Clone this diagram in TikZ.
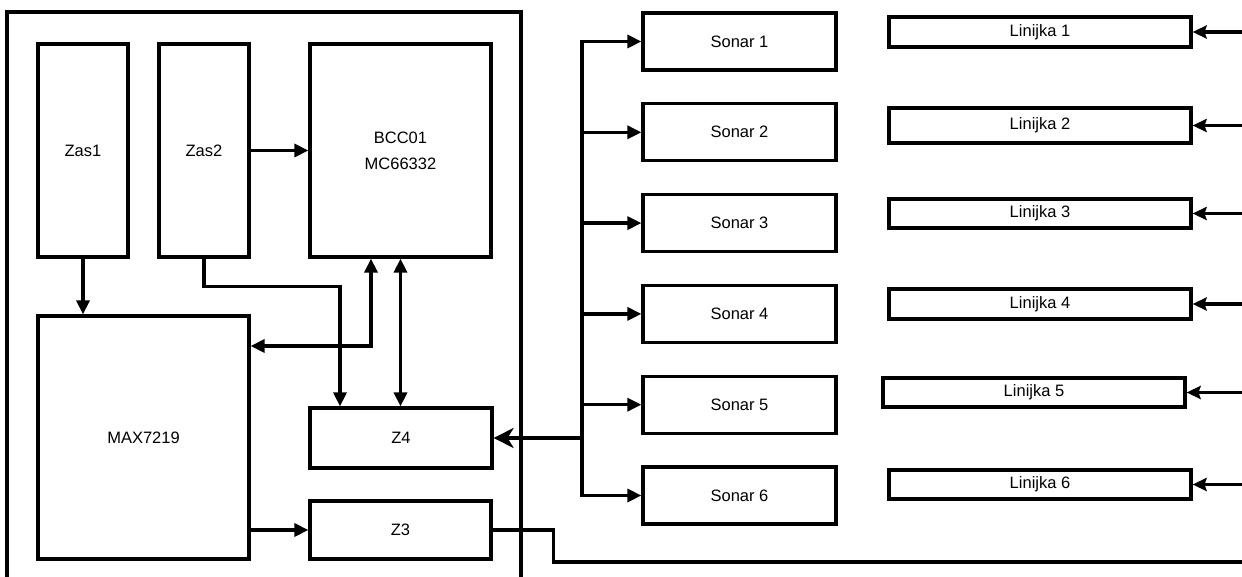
\documentclass[tikz,border=0pt]{standalone}
\usepackage{fontspec}
\setmainfont{Liberation Sans}
\usepackage{tikz}
\usetikzlibrary{arrows.meta,positioning}

\begin{document}
\begin{tikzpicture}[x=1pt, y=-1pt, line width=3.2pt,
    blok/.style={draw, line width=3.2pt, inner sep=0pt, align=center, font=\fontsize{16.5}{26}\selectfont},
    tri/.style={-{Triangle[length=14pt, width=13pt]}},
    bitri/.style={{Triangle[length=14pt, width=13pt]}-{Triangle[length=14pt, width=13pt]}},
    stl/.style={-{Stealth[length=14pt, width=13pt, inset=2pt]}},
    velik/.style={-{Stealth[length=20pt, width=20pt, inset=6pt]}}]
  \useasboundingbox (0,0) rectangle (1242,577);
  % outer frame
  \draw (7,585) -- (7,12) -- (521,12) -- (521,585);
  \node[blok, minimum width=90pt, minimum height=213pt] (zas1) at (83,150.5) {Zas1};
  \node[blok, minimum width=90pt, minimum height=213pt] (zas2) at (204,150.5) {Zas2};
  \node[blok, minimum width=181pt, minimum height=213pt] (bcc) at (400.5,150.5) {BCC01\\MC66332};
  \node[blok, minimum width=211pt, minimum height=243pt] (max) at (143.5,437.5) {MAX7219};
  \node[blok, minimum width=182pt, minimum height=60pt] (z4) at (401,438) {Z4};
  \node[blok, minimum width=181pt, minimum height=58pt] (z3) at (400.5,530) {Z3};
  % sonars
  \foreach \i in {1,...,6}
    \node[blok, minimum width=193pt, minimum height=57pt] (sonar\i) at (739.5,{41.5+90.8*(\i-1)}) {Sonar \i};
  % rulers
  \foreach \i/\x/\y/\h in {1/1040/32/30, 2/1040/125.5/35, 3/1040/213.5/29, 4/1040/304/30, 5/1034/392.5/29, 6/1040/484.5/29}
    \node[blok, minimum width=302pt, minimum height=\h pt] (lin\i) at (\x,\y) {Linijka \i};
  \coordinate (rand) at (1242,0);
  \coordinate (bus) at (582,0);
  \coordinate (izlaz) at (1242,562);
  % inside the frame
  \draw[tri] (zas2.east) -- (bcc.west |- zas2.east);
  \draw[tri] (zas1.south) -- (zas1.south |- max.north);
  \draw[tri] (zas2.south) -- ++(0,28) -| ([xshift=-61pt]z4.north);
  \draw[bitri] ([yshift=91.5pt]max.east) -| ([xshift=-29.5pt]bcc.south);
  \draw[bitri] (bcc.south) -- (bcc.south |- z4.north);
  \draw[tri] (max.east |- z3.west) -- (z3.west);
  \draw (z3.east) -- ++(61,0) |- (izlaz);
  % sonar bus
  \draw[tri] (sonar6.west -| bus) -- (sonar1.west -| bus) -- (sonar1.west);
  \draw[tri] (sonar1.west -| bus) -- (sonar6.west -| bus) -- (sonar6.west);
  \foreach \i in {2,...,5}
    \draw[tri] (sonar\i.west -| bus) -- (sonar\i.west);
  \draw[velik] (z4.east -| bus) -- (z4.east);
  % rulers in
  \foreach \i in {1,...,6}
    \draw[stl] (lin\i.east -| rand) -- (lin\i.east);
\end{tikzpicture}
\end{document}
